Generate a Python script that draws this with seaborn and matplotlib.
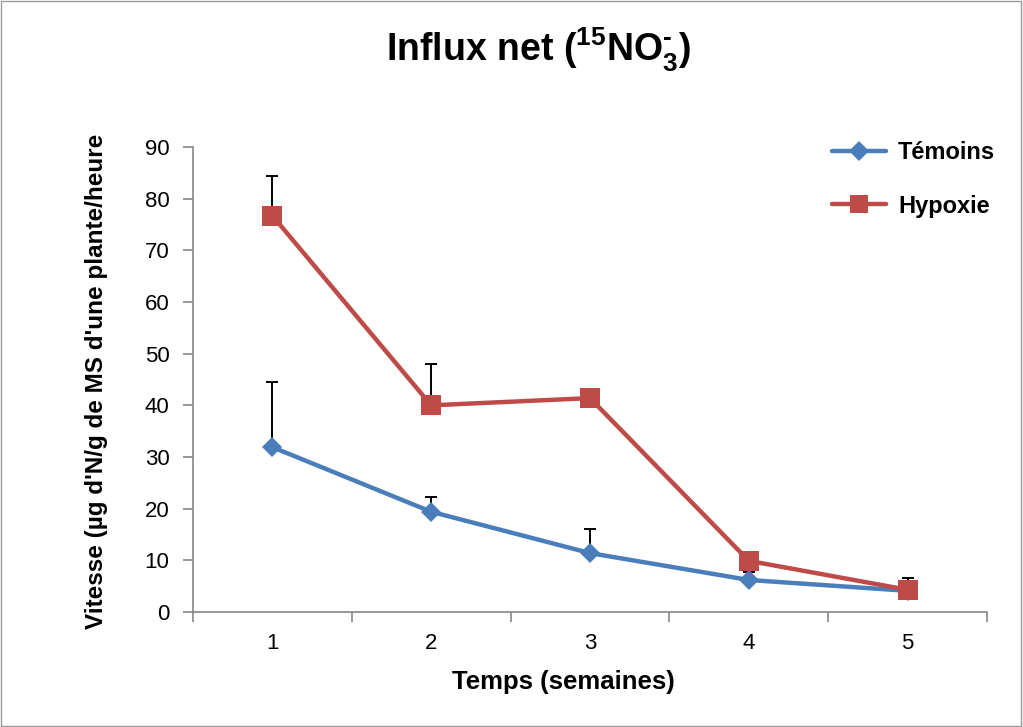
import numpy as np
import pandas as pd
import matplotlib
matplotlib.use("Agg")
import matplotlib.pyplot as plt
import seaborn as sns
from matplotlib.patches import Rectangle

# Data
semaines = [1, 2, 3, 4, 5]
temoins = [31.9, 19.4, 11.4, 6.2, 4.1]
temoins_err = [12.6, 2.9, 4.7, 1.5, 0.8]
hypoxie = [76.7, 40.0, 41.4, 9.9, 4.3]
hypoxie_err = [7.6, 8.0, 0.8, 0.5, 2.3]

df = pd.DataFrame({
    "semaine": semaines * 2,
    "vitesse": temoins + hypoxie,
    "groupe": ["Témoins"] * 5 + ["Hypoxie"] * 5,
})

sns.set_style("white")
plt.rcParams['font.family'] = ['Liberation Sans', 'DejaVu Sans']
plt.rcParams['mathtext.fontset'] = 'custom'
plt.rcParams['mathtext.rm'] = 'Liberation Sans:bold'
plt.rcParams['mathtext.bf'] = 'Liberation Sans:bold'
plt.rcParams['text.color'] = 'black'
plt.rcParams['axes.labelcolor'] = 'black'

fig = plt.figure(figsize=(10.23, 7.27), dpi=100)
ax = fig.add_axes([193 / 1023, 1 - 612 / 727, 794 / 1023, 465 / 727])

colors = {"Témoins": "#4A7EBB", "Hypoxie": "#BE4B48"}

# error bars (upper only), drawn beneath the lines
ax.errorbar(semaines, temoins, yerr=[np.zeros(5), temoins_err], fmt='none',
            ecolor='black', elinewidth=1.4, capsize=4.3, capthick=1.4, zorder=1)
ax.errorbar(semaines, hypoxie, yerr=[np.zeros(5), hypoxie_err], fmt='none',
            ecolor='black', elinewidth=1.4, capsize=4.3, capthick=1.4, zorder=1)

sns.lineplot(data=df, x="semaine", y="vitesse", hue="groupe", style="groupe",
             markers={"Témoins": "D", "Hypoxie": "s"}, dashes=False,
             palette=colors, linewidth=3.2, markersize=10.5, markeredgewidth=0,
             ax=ax, zorder=3, legend=False)
for ln in ax.lines:
    if ln.get_marker() == 's':
        ln.set_markersize(14)

ax.set_xlim(0.5, 5.5)
ax.set_ylim(0, 90)
ax.set_xticks(semaines)
ax.set_xticks(np.arange(0.5, 5.6, 1), minor=True)
ax.set_yticks(np.arange(0, 91, 10))
ax.tick_params(axis='x', which='major', length=0, pad=15, labelsize=16, labelcolor='black')
ax.tick_params(axis='x', which='minor', length=7, color='#868686', width=1.2, direction='out')
ax.tick_params(axis='y', length=7, color='#868686', width=1.2, direction='out',
               labelsize=16, pad=10, labelcolor='black')
ax.xaxis.set_ticks_position('bottom')
ax.yaxis.set_ticks_position('left')

for s in ['top', 'right']:
    ax.spines[s].set_visible(False)
for s in ['left', 'bottom']:
    ax.spines[s].set_color('#868686')
    ax.spines[s].set_linewidth(1.2)

ax.set_xlabel("Temps (semaines)", fontsize=18.5, fontweight='bold')
ax.set_ylabel("Vitesse (µg d'N/g de MS d'une plante/heure", fontsize=17.5,
              fontweight='bold')
ax.xaxis.label.set_va('center')
ax.yaxis.label.set_va('center')
ax.xaxis.set_label_coords((563 - 193) / 794, (612 - 682) / 465)
ax.yaxis.set_label_coords((97 - 193) / 794, (612 - 381) / 465)

fig.text(539 / 1023, 1 - 62 / 727, r"Influx net ($^{15}$NO$_3^{\text{-}}$)",
         ha='center', va='baseline', fontsize=27, fontweight='bold')

# legend
handles = [
    plt.Line2D([], [], color=colors["Témoins"], lw=3.2, marker='D', ms=10, mew=0),
    plt.Line2D([], [], color=colors["Hypoxie"], lw=3.2, marker='s', ms=13, mew=0),
]
fig.legend(handles, ["Témoins", "Hypoxie"], loc='upper left',
           bbox_to_anchor=(832 / 1023, 1 - 141 / 727), frameon=False,
           prop={'weight': 'bold', 'size': 17}, handlelength=2.3,
           labelspacing=1.3, handletextpad=0.5, borderpad=0, borderaxespad=0)

fig.patches.append(Rectangle((0.001, 0.002), 0.997, 0.996, transform=fig.transFigure,
                             fill=False, edgecolor='#9a9a9a', linewidth=1))

fig.savefig("out.png", dpi=100)
